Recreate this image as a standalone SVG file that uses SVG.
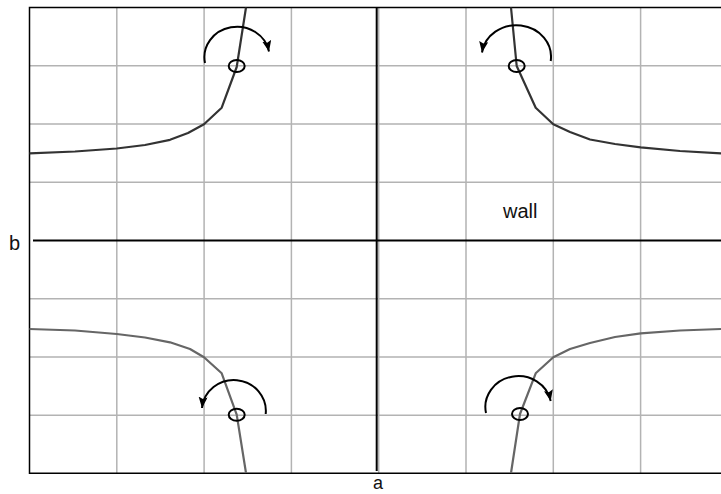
<svg xmlns="http://www.w3.org/2000/svg" width="721" height="494" viewBox="0 0 721 494">
<defs>
<style>
.grid{stroke:#b3b3b3;stroke-width:1.5;fill:none}
.axis{stroke:#000;stroke-width:2;fill:none}
.frame{stroke:#000;stroke-width:1.5;fill:none}
.curveTop{stroke:#333;stroke-width:2.2;fill:none;stroke-linejoin:round}
.curveBot{stroke:#666;stroke-width:2.2;fill:none;stroke-linejoin:round}
.rot{stroke:#000;stroke-width:2;fill:none;marker-end:url(#ah)}
.pivot{stroke:#000;stroke-width:2;fill:none}
.lbl{font-family:"Liberation Sans",Arial,sans-serif;font-size:20px;fill:#111}
.small{font-size:18px}
</style>
<marker id="ah" markerUnits="userSpaceOnUse" markerWidth="14" markerHeight="10" refX="11" refY="4.5" orient="auto">
<path d="M0,0 L11,4.5 L0,9 L2,4.5 z" fill="#000"/>
</marker>
</defs>
<rect x="0" y="0" width="721" height="494" fill="#fff"/>
<g id="grid">
<path class="grid" d="M116.8,7.5V473.3M204.1,7.5V473.3M291.4,7.5V473.3M378.7,7.5V473.3M466,7.5V473.3M553.3,7.5V473.3M640.6,7.5V473.3"/>
<path class="grid" d="M29.5,65.8H721M29.5,124H721M29.5,182.3H721M29.5,298.8H721M29.5,357H721M29.5,415.3H721"/>
</g>
<g id="frame">
<path class="frame" d="M722,7.5H29.5V473.3H722"/>
</g>
<g id="axes">
<path class="axis" d="M33,240.5H721"/>
<path class="axis" d="M376.7,7.5V471"/>
</g>
<g id="labels">
<text class="lbl" x="9" y="250">b</text>
<text class="lbl small" x="373" y="489">a</text>
<text class="lbl" x="503" y="218">wall</text>
</g>
<g id="connectors">
<polyline id="curve-tl" class="curveTop" points="29.5,153.3 75,151.5 116.7,148.5 145,145 170,139.8 188,133 204,124.3 221.7,107.7 236.7,67 246,7.5"/>
<polyline id="curve-tr" class="curveTop" points="511,7.5 516.7,66 535.7,107.7 553.3,124.3 570,132 590,139.5 615,144 640.7,147.3 680,151 721,153.3"/>
<polyline id="curve-bl" class="curveBot" points="29.5,329 75,330.5 116.7,334 145,337.5 170,342.3 190,349 204,357.3 221.7,373.3 236.7,414.7 246,473"/>
<polyline id="curve-br" class="curveBot" points="511,473 520,414 535.7,373.3 553.3,357.3 570,349 590,343 615,337 640.7,333.3 680,330.5 721,329"/>
</g>
<g id="pivot-tl"><ellipse class="pivot" cx="236.7" cy="66" rx="8" ry="6"/><path class="rot" d="M205,63 A32,30 0 0 1 269,51.5"/></g>
<g id="pivot-tr"><ellipse class="pivot" cx="516.7" cy="66" rx="8" ry="6"/><path class="rot" d="M550.7,61 A33,30 0 0 0 482,52.5"/></g>
<g id="pivot-bl"><ellipse class="pivot" cx="236.7" cy="414.7" rx="8" ry="6"/><path class="rot" d="M265.7,414 A31,30 0 0 0 202,408"/></g>
<g id="pivot-br"><ellipse class="pivot" cx="520" cy="414" rx="8" ry="6"/><path class="rot" d="M486,413 A32,30 0 0 1 550.7,401"/></g>
</svg>
